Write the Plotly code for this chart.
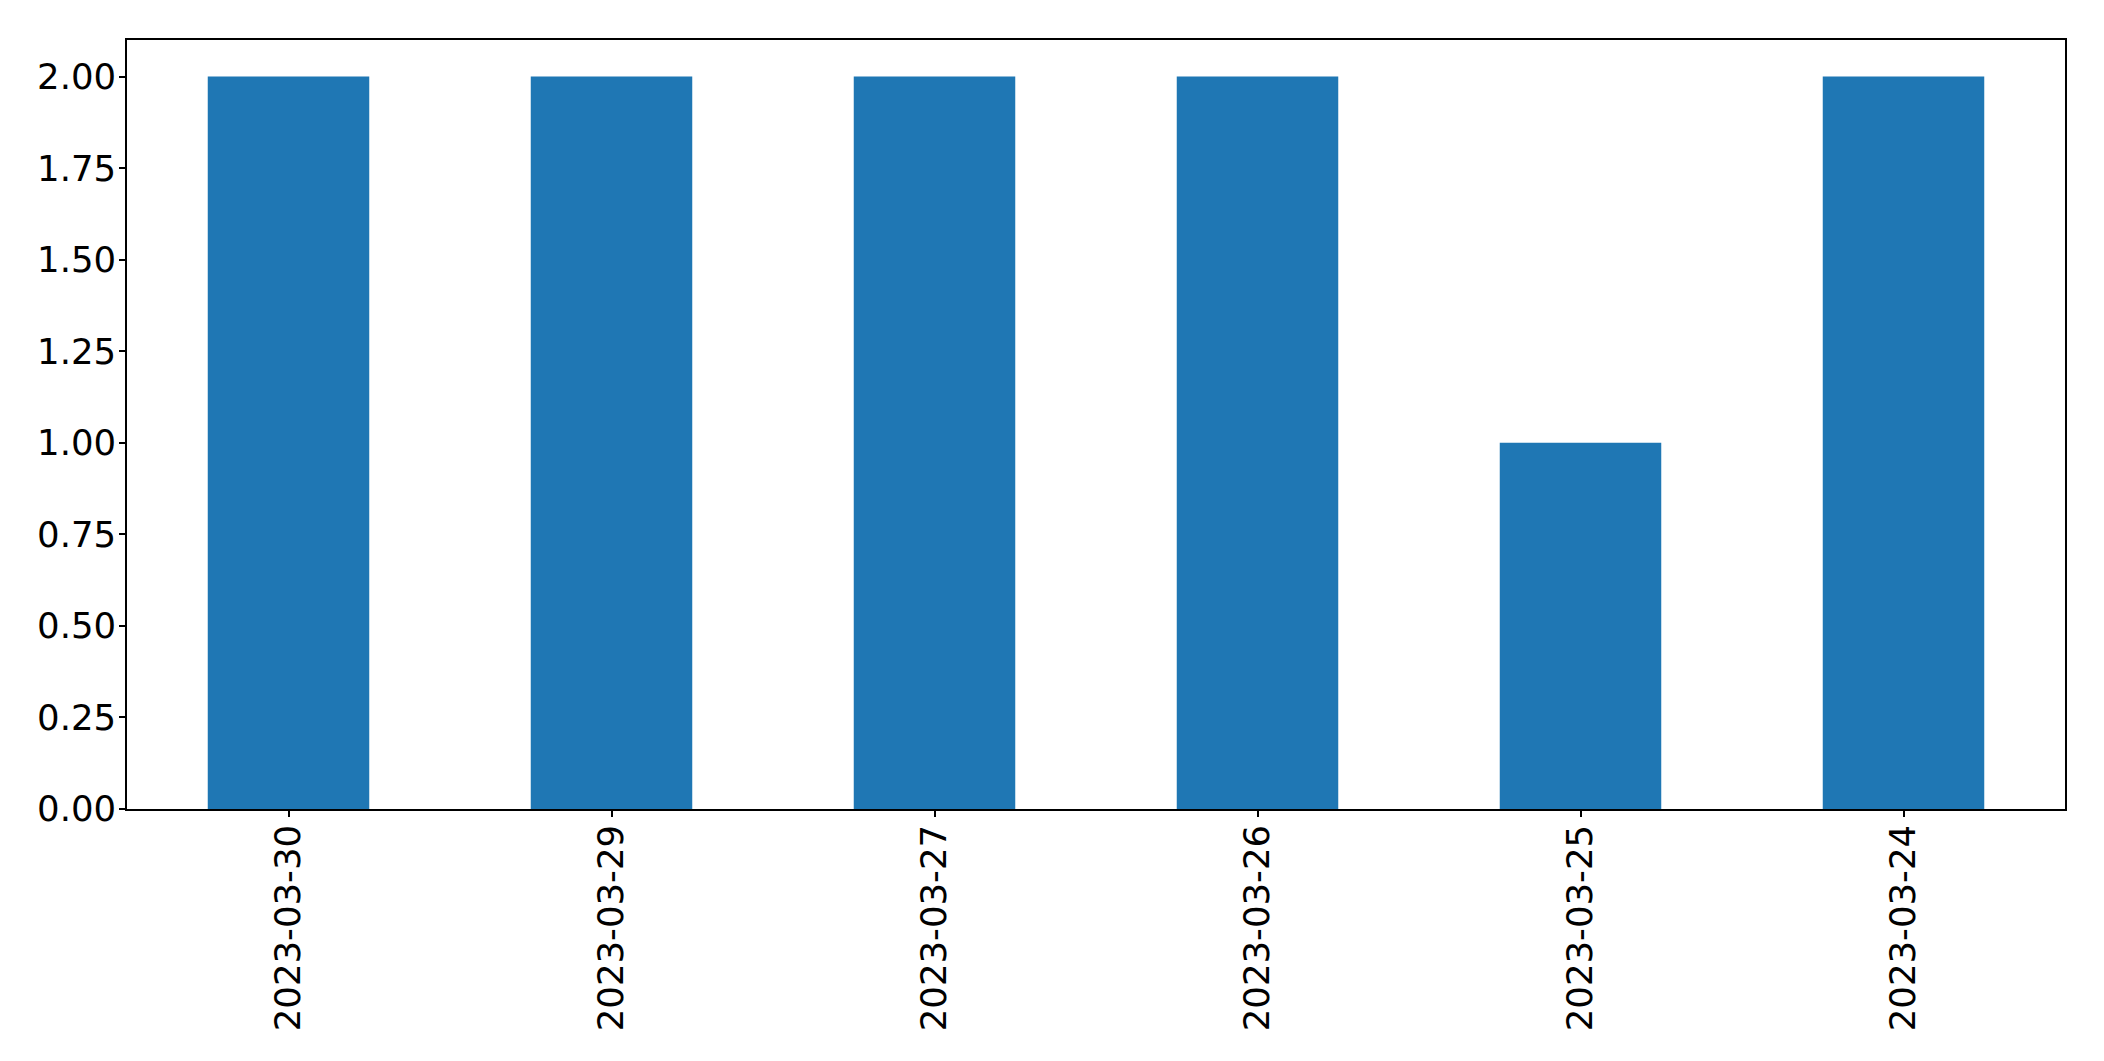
import plotly.graph_objects as go

categories = ["2023-03-30", "2023-03-29", "2023-03-27", "2023-03-26", "2023-03-25", "2023-03-24"]
values = [2, 2, 2, 2, 1, 2]
y_ticks = [0, 0.25, 0.5, 0.75, 1.0, 1.25, 1.5, 1.75, 2.0]
y_tick_labels = ["0.00", "0.25", "0.50", "0.75", "1.00", "1.25", "1.50", "1.75", "2.00"]

fig = go.Figure(go.Bar(x=categories, y=values, marker=dict(color="#1f77b4", line=dict(width=0)), width=0.5))

fig.update_layout(
    width=2088, height=1045,
    margin=dict(l=119, r=31, t=32, b=244),
    paper_bgcolor="white", plot_bgcolor="white",
    font=dict(family="DejaVu Sans", size=35.5, color="black"),
    showlegend=False,
)
fig.update_xaxes(
    type="category", range=[-0.5, 5.5], tickangle=-90,
    showline=True, linecolor="black", linewidth=1.5, mirror=True,
    ticks="outside", ticklen=6, tickwidth=1.5, tickcolor="black",
    showgrid=False, zeroline=False, tickfont=dict(size=35.5),
    ticklabelstandoff=-6,
)
fig.update_yaxes(
    range=[0, 2.1], tickvals=y_ticks, ticktext=y_tick_labels,
    showline=True, linecolor="black", linewidth=1.5, mirror=True,
    ticks="outside", ticklen=6, tickwidth=1.5, tickcolor="black",
    showgrid=False, zeroline=False, tickfont=dict(size=35.5),
    ticklabelstandoff=-4,
)

fig.write_html("out.html")
